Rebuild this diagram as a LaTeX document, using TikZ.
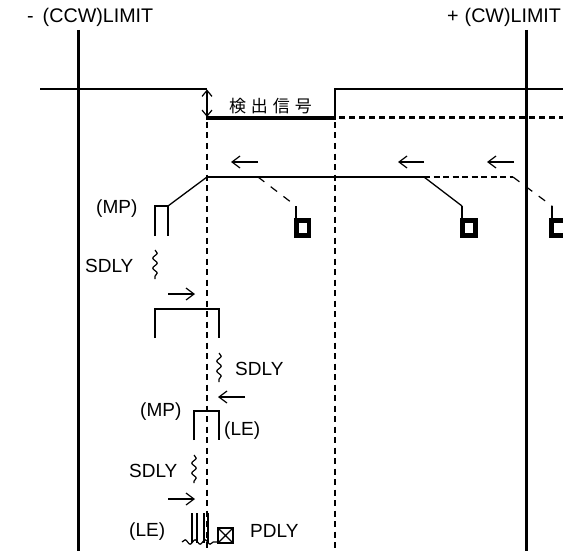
\documentclass[tikz,border=0pt]{standalone}
\usepackage{fontspec}
\setmainfont{Liberation Sans}
\newfontfamily\cjk{Noto Sans CJK JP}
\usetikzlibrary{arrows.meta,decorations.pathmorphing}
\tikzset{
  x=1pt,y=-1pt,
  label text/.style={inner sep=0pt,font=\fontsize{19}{20}\selectfont,text=black},
  top label/.style={inner sep=0pt,font=\fontsize{19.7}{20}\selectfont,text=black},
  limit/.style={line width=3pt},
  signal/.style={line width=2pt},
  guide/.style={line width=2pt,dash pattern=on 6pt off 4.5pt},
  thinline/.style={line width=1.3pt},
  thindash/.style={line width=1.2pt,dash pattern=on 8pt off 8pt},
  pulse/.style={line width=1.8pt},
  dir/.style={line width=1.3pt,-{Straight Barb[length=8pt,width=12pt,line width=1.2pt]}},
  wavy/.style={line width=1.2pt,decorate,decoration={snake,segment length=10pt,amplitude=2.2pt}},
}
\begin{document}
\begin{tikzpicture}
\useasboundingbox (0,0) rectangle (563,551);
% text
\node[top label,anchor=west] (tl) at (27,17) {-\hspace{9pt}(CCW)LIMIT};
\node[top label,anchor=west] (tr) at (447,17) {+\hspace{6pt}(CW)LIMIT};
\node[inner sep=0pt,anchor=center,font=\fontsize{17}{18}\cjk\selectfont,text=black] (det) at (270.5,106) {検\hspace{5pt}出\hspace{5pt}信\hspace{5pt}号};
\node[label text,anchor=west] (mp1) at (96,209) {(MP)};
\node[label text,anchor=west] (sd1) at (85,266) {SDLY};
\node[label text,anchor=west] (sd2) at (235,369) {SDLY};
\node[label text,anchor=west] (mp2) at (140,412) {(MP)};
\node[label text,anchor=west] (le1) at (224,431) {(LE)};
\node[label text,anchor=west] (sd3) at (129,471) {SDLY};
\node[label text,anchor=west] (le2) at (129,532) {(LE)};
\node[label text,anchor=west] (pd) at (250,531) {PDLY};
% limits
\draw[limit] (78.5,30) -- (78.5,551);
\draw[limit] (526.5,30) -- (526.5,551);
% detection signal
\draw[signal] (40,89) -- (207,89);
\draw[signal] (335,118) -- (335,89) -- (563,89);
\draw[line width=3.5pt] (206,118) -- (335.5,118);
\draw[line width=3pt,dash pattern=on 6pt off 4pt] (339,118) -- (563,118);
\draw[guide] (207,122) -- (207,551);
\draw[guide] (335,122) -- (335,551);
\draw[thinline,{Straight Barb[length=6pt,width=10pt,line width=1.2pt]}-{Straight Barb[length=6pt,width=10pt,line width=1.2pt]}] (207,89.5) -- (207,117);
% speed profile
\draw[signal] (207,177) -- (424,177);
\draw[thinline] (424,177) -- (462,206);
\draw[signal,dash pattern=on 6pt off 3.5pt] (424,177) -- (513,177);
\draw[thindash] (513,177) -- (552,206);
\draw[thindash] (258,177) -- (296,206);
\draw[thinline] (168,206) -- (207,177);
% direction arrows
\draw[dir] (258,162) -- (231,162);
\draw[dir] (424,162) -- (398,162);
\draw[dir] (514,162) -- (487,162);
\draw[dir] (168,294) -- (195,294);
\draw[dir] (245,397) -- (218,397);
\draw[dir] (168,499) -- (195,499);
% blocks
\foreach \x in {296,462,552}{\draw[pulse] (\x,206) -- (\x,220);}
\fill (294,218) rectangle (311,238);
\fill[white] (299,223) rectangle (307,233);
\fill (460,218) rectangle (478,238);
\fill[white] (465,223) rectangle (473,233);
\fill (549,218) rectangle (563,238);
\fill[white] (554,223) rectangle (563,233);
% pulses
\draw[pulse] (155,236) -- (155,206) -- (168,206) -- (168,236);
\draw[pulse] (155,338) -- (155,309) -- (219,309) -- (219,338);
\draw[pulse] (194,440) -- (194,411) -- (219,411) -- (219,440);
\draw[wavy] (155,250) -- (155,279);
\draw[wavy] (219,353) -- (219,382);
\draw[wavy] (194,455) -- (194,483);
% LE
\foreach \x in {192,197,204,208}{\draw[line width=1.2pt] (\x,513) -- (\x,543);}
\draw[wavy] (182,542) -- (218,542);
\draw[line width=1.5pt] (218,528) rectangle (233,543);
\draw[line width=1.1pt] (218,528) -- (233,543) (218,543) -- (233,528);
\end{tikzpicture}
\end{document}
